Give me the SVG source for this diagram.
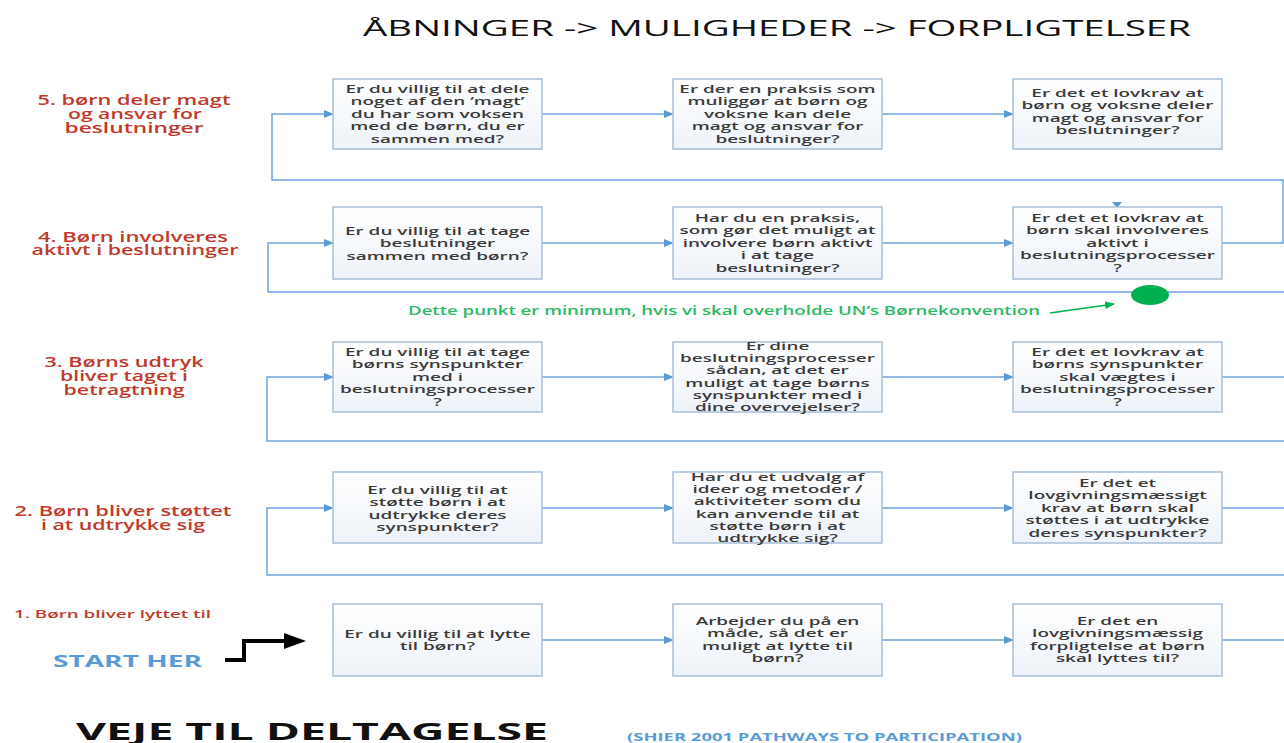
<svg xmlns="http://www.w3.org/2000/svg" width="1284" height="743" viewBox="0 0 1284 743">
<defs>
<linearGradient id="bg" x1="0" y1="0" x2="0" y2="1"><stop offset="0" stop-color="#ffffff"/><stop offset="1" stop-color="#eef3f9"/></linearGradient>
<marker id="ah" markerWidth="10" markerHeight="8" refX="9" refY="4" orient="auto" markerUnits="userSpaceOnUse"><path d="M0,0 L10,4 L0,8 Z" fill="#5b9bd5"/></marker>
<marker id="gh" markerWidth="10" markerHeight="8" refX="9" refY="4" orient="auto" markerUnits="userSpaceOnUse"><path d="M0,0 L10,4 L0,8 Z" fill="#00b050"/></marker>
</defs>
<style>
.box{fill:url(#bg);stroke:#a9bfd8;stroke-width:1.5}
.bt{font-family:"Open Sans",sans-serif;font-size:11px;font-weight:600;fill:#3a3a3a;text-anchor:middle}
.lab{font-family:"Open Sans",sans-serif;font-size:14px;font-weight:600;fill:#c0392b;text-anchor:middle}
.con{fill:none;stroke:#6fa3d9;stroke-width:1.5}
.arr{fill:none;stroke:#6fa3d9;stroke-width:1.5;marker-end:url(#ah)}
</style>
<rect width="1284" height="743" fill="#ffffff"/>
<text x="363" y="36" font-family="Open Sans,sans-serif" font-size="21" fill="#111" textLength="828" lengthAdjust="spacingAndGlyphs">ÅBNINGER -&gt; MULIGHEDER -&gt; FORPLIGTELSER</text>

<g id="labels">
<text class="lab" x="134" y="105" textLength="193" lengthAdjust="spacingAndGlyphs">5. børn deler magt</text>
<text class="lab" x="135" y="119" textLength="134" lengthAdjust="spacingAndGlyphs">og ansvar for</text>
<text class="lab" x="134" y="133" textLength="139" lengthAdjust="spacingAndGlyphs">beslutninger</text>
<text class="lab" x="133" y="242" textLength="190" lengthAdjust="spacingAndGlyphs">4. Børn involveres</text>
<text class="lab" x="135" y="255" textLength="207" lengthAdjust="spacingAndGlyphs">aktivt i beslutninger</text>
<text class="lab" x="124" y="367" textLength="159" lengthAdjust="spacingAndGlyphs">3. Børns udtryk</text>
<text class="lab" x="124" y="381" textLength="128" lengthAdjust="spacingAndGlyphs">bliver taget i</text>
<text class="lab" x="124" y="395" textLength="121" lengthAdjust="spacingAndGlyphs">betragtning</text>
<text class="lab" x="123" y="516" textLength="217" lengthAdjust="spacingAndGlyphs">2. Børn bliver støttet</text>
<text class="lab" x="123" y="530" textLength="164" lengthAdjust="spacingAndGlyphs">i at udtrykke sig</text>
<text x="14" y="618" font-family="Open Sans,sans-serif" font-size="11" font-weight="600" fill="#c0392b" textLength="197" lengthAdjust="spacingAndGlyphs">1. Børn bliver lyttet til</text>
<text x="53" y="667" font-family="Open Sans,sans-serif" font-size="16" font-weight="700" fill="#5b9bd5" textLength="149" lengthAdjust="spacingAndGlyphs">START HER</text>
<text x="76" y="740" font-family="Open Sans,sans-serif" font-size="24" font-weight="700" fill="#111" textLength="472" lengthAdjust="spacingAndGlyphs">VEJE TIL DELTAGELSE</text>
<text x="627" y="741" font-family="Open Sans,sans-serif" font-size="10" font-weight="700" fill="#5b9bd5" textLength="395" lengthAdjust="spacingAndGlyphs">(SHIER 2001 PATHWAYS TO PARTICIPATION)</text>
<text x="408" y="315" font-family="Open Sans,sans-serif" font-size="12" font-weight="600" fill="#2db864" textLength="632" lengthAdjust="spacingAndGlyphs">Dette punkt er minimum, hvis vi skal overholde UN’s Børnekonvention</text>
</g>

<g id="connectors">
<path class="arr" d="M542,114 H673"/>
<path class="arr" d="M882,114 H1013"/>
<path class="arr" d="M1222,243 H1283 V180 H272 V114 H333"/>
<path class="arr" d="M542,243 H673"/>
<path class="arr" d="M882,243 H1013"/>
<path class="arr" d="M1284,292 H268 V243 H333"/>
<path class="arr" d="M542,377 H673"/>
<path class="arr" d="M882,377 H1013"/>
<path class="con" d="M1222,377 H1284"/>
<path class="arr" d="M1284,441 H267 V377 H333"/>
<path class="arr" d="M542,508 H673"/>
<path class="arr" d="M882,508 H1013"/>
<path class="con" d="M1222,508 H1284"/>
<path class="arr" d="M1284,575 H267 V508 H333"/>
<path class="arr" d="M542,640 H673"/>
<path class="arr" d="M882,640 H1013"/>
<path class="con" d="M1222,640 H1284"/>
<path d="M1112,202 L1122,202 L1117,208 Z" fill="#5b9bd5"/>
<path d="M1050,313 L1114,304" fill="none" stroke="#00b050" stroke-width="1.5" marker-end="url(#gh)"/>
<ellipse cx="1150" cy="295" rx="19" ry="10" fill="#00b050"/>
<path d="M225,660 H244 V641 H286" fill="none" stroke="#000" stroke-width="4"/>
<path d="M284,633 L306,641 L284,649 Z" fill="#000"/>
</g>

<g id="n5a"><rect class="box" x="333" y="79" width="209" height="70"/><text class="bt" transform="translate(437.5,0) scale(1.72,1)"><tspan x="0" y="93">Er du villig til at dele</tspan><tspan x="0" y="105.5">noget af den ‘magt’</tspan><tspan x="0" y="118">du har som voksen</tspan><tspan x="0" y="130.5">med de børn, du er</tspan><tspan x="0" y="143">sammen med?</tspan></text></g>
<g id="n5b"><rect class="box" x="673" y="79" width="209" height="70"/><text class="bt" transform="translate(777.5,0) scale(1.72,1)"><tspan x="0" y="93">Er der en praksis som</tspan><tspan x="0" y="105.5">muliggør at børn og</tspan><tspan x="0" y="118">voksne kan dele</tspan><tspan x="0" y="130.5">magt og ansvar for</tspan><tspan x="0" y="143">beslutninger?</tspan></text></g>
<g id="n5c"><rect class="box" x="1013" y="79" width="209" height="70"/><text class="bt" transform="translate(1117.5,0) scale(1.72,1)"><tspan x="0" y="97">Er det et lovkrav at</tspan><tspan x="0" y="109.5">børn og voksne deler</tspan><tspan x="0" y="122">magt og ansvar for</tspan><tspan x="0" y="134.5">beslutninger?</tspan></text></g>

<g id="n4a"><rect class="box" x="333" y="207" width="209" height="72"/><text class="bt" transform="translate(437.5,0) scale(1.72,1)"><tspan x="0" y="235">Er du villig til at tage</tspan><tspan x="0" y="247.5">beslutninger</tspan><tspan x="0" y="260">sammen med børn?</tspan></text></g>
<g id="n4b"><rect class="box" x="673" y="207" width="209" height="72"/><text class="bt" transform="translate(777.5,0) scale(1.72,1)"><tspan x="0" y="222">Har du en praksis,</tspan><tspan x="0" y="234.5">som gør det muligt at</tspan><tspan x="0" y="247">involvere børn aktivt</tspan><tspan x="0" y="259.5">i at tage</tspan><tspan x="0" y="272">beslutninger?</tspan></text></g>
<g id="n4c"><rect class="box" x="1013" y="207" width="209" height="72"/><text class="bt" transform="translate(1117.5,0) scale(1.72,1)"><tspan x="0" y="222">Er det et lovkrav at</tspan><tspan x="0" y="234.5">børn skal involveres</tspan><tspan x="0" y="247">aktivt i</tspan><tspan x="0" y="259.5">beslutningsprocesser</tspan><tspan x="0" y="272">?</tspan></text></g>

<g id="n3a"><rect class="box" x="333" y="342" width="209" height="70"/><text class="bt" transform="translate(437.5,0) scale(1.72,1)"><tspan x="0" y="356">Er du villig til at tage</tspan><tspan x="0" y="368.5">børns synspunkter</tspan><tspan x="0" y="381">med i</tspan><tspan x="0" y="393.5">beslutningsprocesser</tspan><tspan x="0" y="406">?</tspan></text></g>
<g id="n3b"><rect class="box" x="673" y="342" width="209" height="70"/><text class="bt" transform="translate(777.5,0) scale(1.72,1)"><tspan x="0" y="350">Er dine</tspan><tspan x="0" y="362.2">beslutningsprocesser</tspan><tspan x="0" y="374.4">sådan, at det er</tspan><tspan x="0" y="386.6">muligt at tage børns</tspan><tspan x="0" y="398.8">synspunkter med i</tspan><tspan x="0" y="411">dine overvejelser?</tspan></text></g>
<g id="n3c"><rect class="box" x="1013" y="342" width="209" height="70"/><text class="bt" transform="translate(1117.5,0) scale(1.72,1)"><tspan x="0" y="356">Er det et lovkrav at</tspan><tspan x="0" y="368.5">børns synspunkter</tspan><tspan x="0" y="381">skal vægtes i</tspan><tspan x="0" y="393.5">beslutningsprocesser</tspan><tspan x="0" y="406">?</tspan></text></g>

<g id="n2a"><rect class="box" x="333" y="472" width="209" height="71"/><text class="bt" transform="translate(437.5,0) scale(1.72,1)"><tspan x="0" y="494">Er du villig til at</tspan><tspan x="0" y="506.5">støtte børn i at</tspan><tspan x="0" y="519">udtrykke deres</tspan><tspan x="0" y="531.5">synspunkter?</tspan></text></g>
<g id="n2b"><rect class="box" x="673" y="472" width="209" height="71"/><text class="bt" transform="translate(777.5,0) scale(1.72,1)"><tspan x="0" y="481">Har du et udvalg af</tspan><tspan x="0" y="493.2">ideer og metoder /</tspan><tspan x="0" y="505.4">aktiviteter som du</tspan><tspan x="0" y="517.6">kan anvende til at</tspan><tspan x="0" y="529.8">støtte børn i at</tspan><tspan x="0" y="542">udtrykke sig?</tspan></text></g>
<g id="n2c"><rect class="box" x="1013" y="472" width="209" height="71"/><text class="bt" transform="translate(1117.5,0) scale(1.72,1)"><tspan x="0" y="487">Er det et</tspan><tspan x="0" y="499.5">lovgivningsmæssigt</tspan><tspan x="0" y="512">krav at børn skal</tspan><tspan x="0" y="524.5">støttes i at udtrykke</tspan><tspan x="0" y="537">deres synspunkter?</tspan></text></g>

<g id="n1a"><rect class="box" x="333" y="604" width="209" height="72"/><text class="bt" transform="translate(437.5,0) scale(1.72,1)"><tspan x="0" y="638">Er du villig til at lytte</tspan><tspan x="0" y="650.5">til børn?</tspan></text></g>
<g id="n1b"><rect class="box" x="673" y="604" width="209" height="72"/><text class="bt" transform="translate(777.5,0) scale(1.72,1)"><tspan x="0" y="625">Arbejder du på en</tspan><tspan x="0" y="637.5">måde, så det er</tspan><tspan x="0" y="650">muligt at lytte til</tspan><tspan x="0" y="662.5">børn?</tspan></text></g>
<g id="n1c"><rect class="box" x="1013" y="604" width="209" height="72"/><text class="bt" transform="translate(1117.5,0) scale(1.72,1)"><tspan x="0" y="625">Er det en</tspan><tspan x="0" y="637.5">lovgivningsmæssig</tspan><tspan x="0" y="650">forpligtelse at børn</tspan><tspan x="0" y="662.5">skal lyttes til?</tspan></text></g>
</svg>
